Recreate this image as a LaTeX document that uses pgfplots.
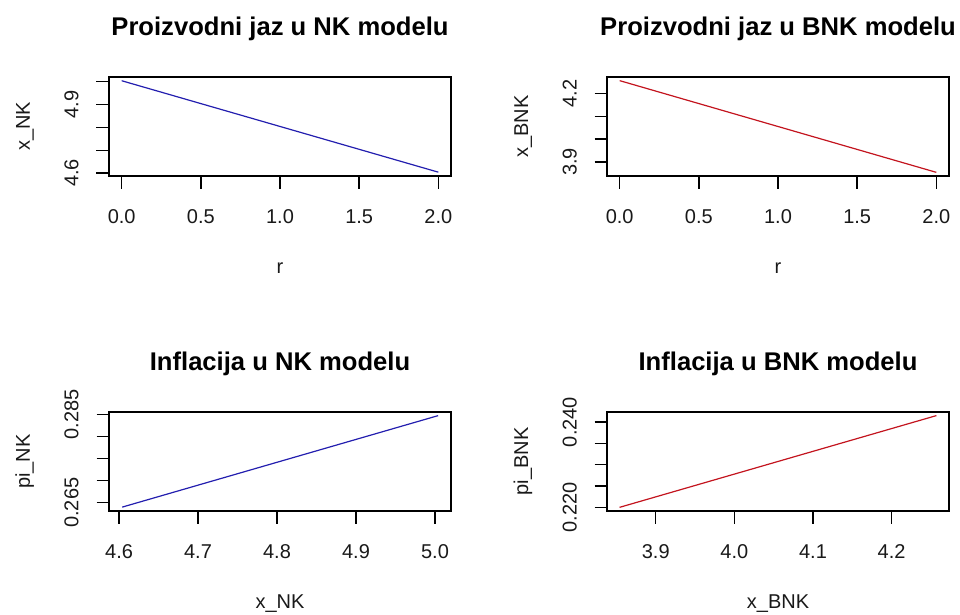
\documentclass[border=0pt]{standalone}
\usepackage{fontspec}
\setmainfont{Liberation Sans}
\usepackage{pgfplots}
\pgfplotsset{compat=1.18}
\definecolor{rblue}{RGB}{35,30,175}
\definecolor{rred}{RGB}{195,20,30}
\definecolor{rtext}{RGB}{25,25,25}
\pgfplotsset{rstyle/.style={
  scale only axis, width=342pt, height=99pt, anchor=south west,
  axis line style={line width=1.4pt, black},
  tick align=outside, xtick pos=left, ytick pos=left,
  major tick length=12.5pt,
  every tick/.style={black, line width=1.4pt},
  ticklabel style={font=\fontsize{20}{24}\selectfont, text=rtext},
  xticklabel style={anchor=base, yshift=-34.5pt},
  yticklabel style={rotate=90, anchor=base, yshift=18pt},
  label style={font=\fontsize{20}{24}\selectfont, text=rtext},
  xlabel style={at={(axis description cs:0.5,0)}, anchor=base, yshift=-97pt},
  ylabel style={at={(axis description cs:-0.231,0.5)}, anchor=base},
  title style={at={(axis description cs:0.5,1)}, anchor=base, yshift=35.5pt, font=\bfseries\fontsize{25.6}{30}\selectfont, text=black},
  scaled ticks=false,
}}
\begin{document}
\begin{tikzpicture}
\path[use as bounding box] (0,0) rectangle (960pt,614pt);
% top left
\begin{axis}[rstyle, at={(109pt,438pt)},
  title={Proizvodni jaz u NK modelu}, xlabel={r}, ylabel={x\_NK},
  xmin=-0.08, xmax=2.08, ymin=4.5873, ymax=5.0203,
  xtick={0,0.5,1,1.5,2}, xticklabels={0.0,0.5,1.0,1.5,2.0},
  ytick={4.6,4.7,4.8,4.9,5.0}, yticklabels={4.6,,,4.9,}]
\addplot[rblue, line width=1.2pt] coordinates {(0,5.004) (1,4.804) (2,4.604)};
\end{axis}
% top right
\begin{axis}[rstyle, at={(607pt,438pt)},
  title={Proizvodni jaz u BNK modelu}, xlabel={r}, ylabel={x\_BNK},
  xmin=-0.08, xmax=2.08, ymin=3.838, ymax=4.273,
  xtick={0,0.5,1,1.5,2}, xticklabels={0.0,0.5,1.0,1.5,2.0},
  ytick={3.9,4.0,4.1,4.2}, yticklabels={3.9,,,4.2}]
\addplot[rred, line width=1.2pt] coordinates {(0,4.257) (1,4.0555) (2,3.854)};
\end{axis}
% bottom left
\begin{axis}[rstyle, at={(109pt,103pt)},
  title={Inflacija u NK modelu}, xlabel={x\_NK}, ylabel={pi\_NK},
  xmin=4.5873, xmax=5.0203, ymin=0.26312, ymax=0.28552,
  xtick={4.6,4.7,4.8,4.9,5.0}, xticklabels={4.6,4.7,4.8,4.9,5.0},
  ytick={0.265,0.270,0.275,0.280,0.285}, yticklabels={0.265,,,,0.285}]
\addplot[rblue, line width=1.2pt] coordinates {(4.604,0.2640) (4.804,0.27435) (5.004,0.2847)};
\end{axis}
% bottom right
\begin{axis}[rstyle, at={(607pt,103pt)},
  title={Inflacija u BNK modelu}, xlabel={x\_BNK}, ylabel={pi\_BNK},
  xmin=3.838, xmax=4.273, ymin=0.21914, ymax=0.24234,
  xtick={3.9,4.0,4.1,4.2}, xticklabels={3.9,4.0,4.1,4.2},
  ytick={0.220,0.225,0.230,0.235,0.240}, yticklabels={0.220,,,,0.240}]
\addplot[rred, line width=1.2pt] coordinates {(3.854,0.2200) (4.0555,0.23075) (4.257,0.2415)};
\end{axis}
\end{tikzpicture}
\end{document}
